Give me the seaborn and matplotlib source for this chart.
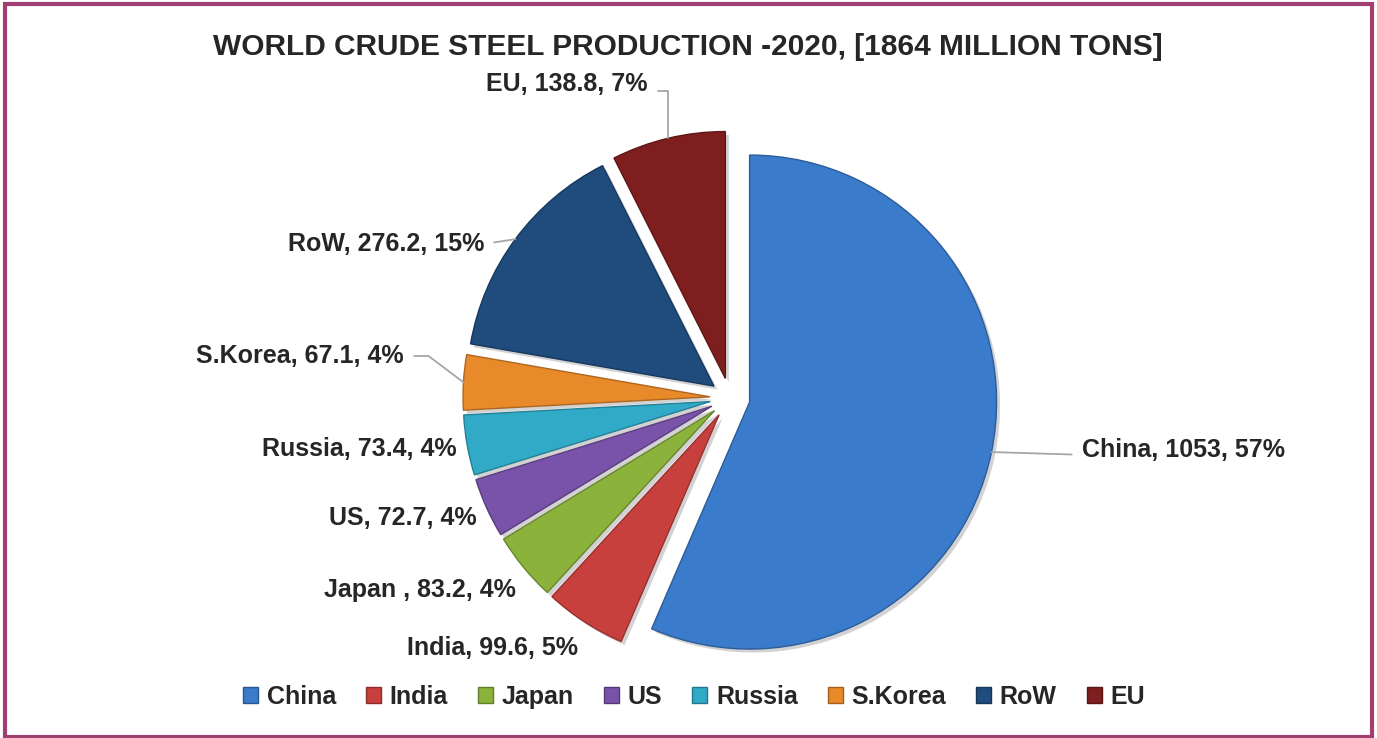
import matplotlib
matplotlib.use("Agg")
import matplotlib.pyplot as plt
import matplotlib.patches as mpatches
import matplotlib.patheffects as pe
import matplotlib.colors as mcolors
import numpy as np
import seaborn as sns

# ---------------- data ----------------
countries = ["China", "India", "Japan", "US", "Russia", "S.Korea", "RoW", "EU"]
label_names = ["China", "India", "Japan ", "US", "Russia", "S.Korea", "RoW", "EU"]
production = [1053, 99.6, 83.2, 72.7, 73.4, 67.1, 276.2, 138.8]
percent_shown = [57, 5, 4, 4, 4, 4, 15, 7]
title = "WORLD CRUDE STEEL PRODUCTION -2020, [1864 MILLION TONS]"
slice_colors = ["#3A7BCB", "#C8403D", "#8BB33B", "#7952A9",
                "#31AAC8", "#E8892A", "#1F4B7D", "#7E1E1E"]

# ---------------- layout ----------------
W, H = 1377, 738
R_PX = 247.0                 # pie radius in pixels
CX, CY = 730.0, 340.0        # pie centre (figure pixels, origin bottom-left)
EXPLODE_PX = 20.0
# label anchor positions in figure pixels: (x, y, ha, leader style)
label_layout = {
    "China":   (1082, 288, "left",  "straight"),
    "India":   (578,  90,  "right", None),
    "Japan":   (516,  148, "right", None),
    "US":      (477,  220, "right", None),
    "Russia":  (457,  289, "right", None),
    "S.Korea": (404,  382, "right", "angle,angleA=0,angleB=-37,rad=0"),
    "RoW":     (484,  494, "right", "straight"),
    "EU":      (648,  654, "right", "angle,angleA=0,angleB=90,rad=0"),
}

sns.set_theme(style="white")
plt.rcParams["font.family"] = ["Liberation Sans", "DejaVu Sans"]
palette = sns.color_palette(slice_colors)

fig = plt.figure(figsize=(W / 100, H / 100), dpi=100)
fig.patch.set_facecolor("white")
ax = fig.add_axes([0, 0, 1, 1])

wedges, _ = ax.pie(
    production,
    startangle=90,
    counterclock=False,
    explode=[EXPLODE_PX / R_PX] * len(production),
    colors=palette,
    radius=1.0,
    wedgeprops=dict(linewidth=1.0),
)
for w, c in zip(wedges, palette):
    dark = tuple(np.array(mcolors.to_rgb(c)) * 0.75)
    w.set_edgecolor(dark)
    w.set_path_effects([
        pe.SimplePatchShadow(offset=(2.5, -2.5), shadow_rgbFace=(0.5, 0.5, 0.5), alpha=0.35),
        pe.Normal(),
    ])

ax.set_xlim(-CX / R_PX, (W - CX) / R_PX)
ax.set_ylim(-CY / R_PX, (H - CY) / R_PX)
ax.set_aspect("equal")
ax.axis("off")

# ---------------- data labels ----------------
for w, name, lab, val, pct in zip(wedges, countries, label_names, production, percent_shown):
    text = f"{lab}, {val:g}, {pct}%"
    x, y, ha, style = label_layout[name]
    mid = np.deg2rad((w.theta1 + w.theta2) / 2)
    cxw, cyw = w.center
    xy = (cxw + w.r * np.cos(mid), cyw + w.r * np.sin(mid))
    if style is None:
        ax.annotate(text, xy=xy, xytext=(x, y), textcoords="figure pixels",
                    ha=ha, va="center", fontsize=18, fontweight="bold", color="#262626")
    else:
        cs = "arc3,rad=0" if style == "straight" else style
        relpos = (0, 0.3) if ha == "left" else (1, 0.5)
        if name == "EU":
            relpos = (1, 0.2)
        ax.annotate(text, xy=xy, xytext=(x, y), textcoords="figure pixels",
                    ha=ha, va="center", fontsize=18, fontweight="bold", color="#262626",
                    arrowprops=dict(arrowstyle="-", color="#A6A6A6", lw=1.3,
                                    connectionstyle=cs, relpos=relpos,
                                    shrinkA=5, shrinkB=0))

# ---------------- title ----------------
fig.text(688 / W, 691 / H, title, ha="center", va="center",
         fontsize=21.5, fontweight="bold", color="#262626")

# ---------------- legend ----------------
handles = [mpatches.Patch(facecolor=c, edgecolor=tuple(np.array(mcolors.to_rgb(c)) * 0.7))
           for c in palette]
fig.legend(handles, countries, loc="center", bbox_to_anchor=(694 / W, 41 / H),
           ncol=len(countries), frameon=False, handlelength=0.6, handleheight=0.6,
           handletextpad=0.35, columnspacing=1.2,
           prop=dict(weight="bold", size=18))

# ---------------- frame ----------------
border = mpatches.Rectangle((5 / W, 1.5 / H), (W - 10) / W, (H - 5) / H, fill=False,
                            edgecolor="#A13F72", linewidth=3.0, transform=fig.transFigure)
fig.add_artist(border)

fig.savefig("out.png", dpi=100)
